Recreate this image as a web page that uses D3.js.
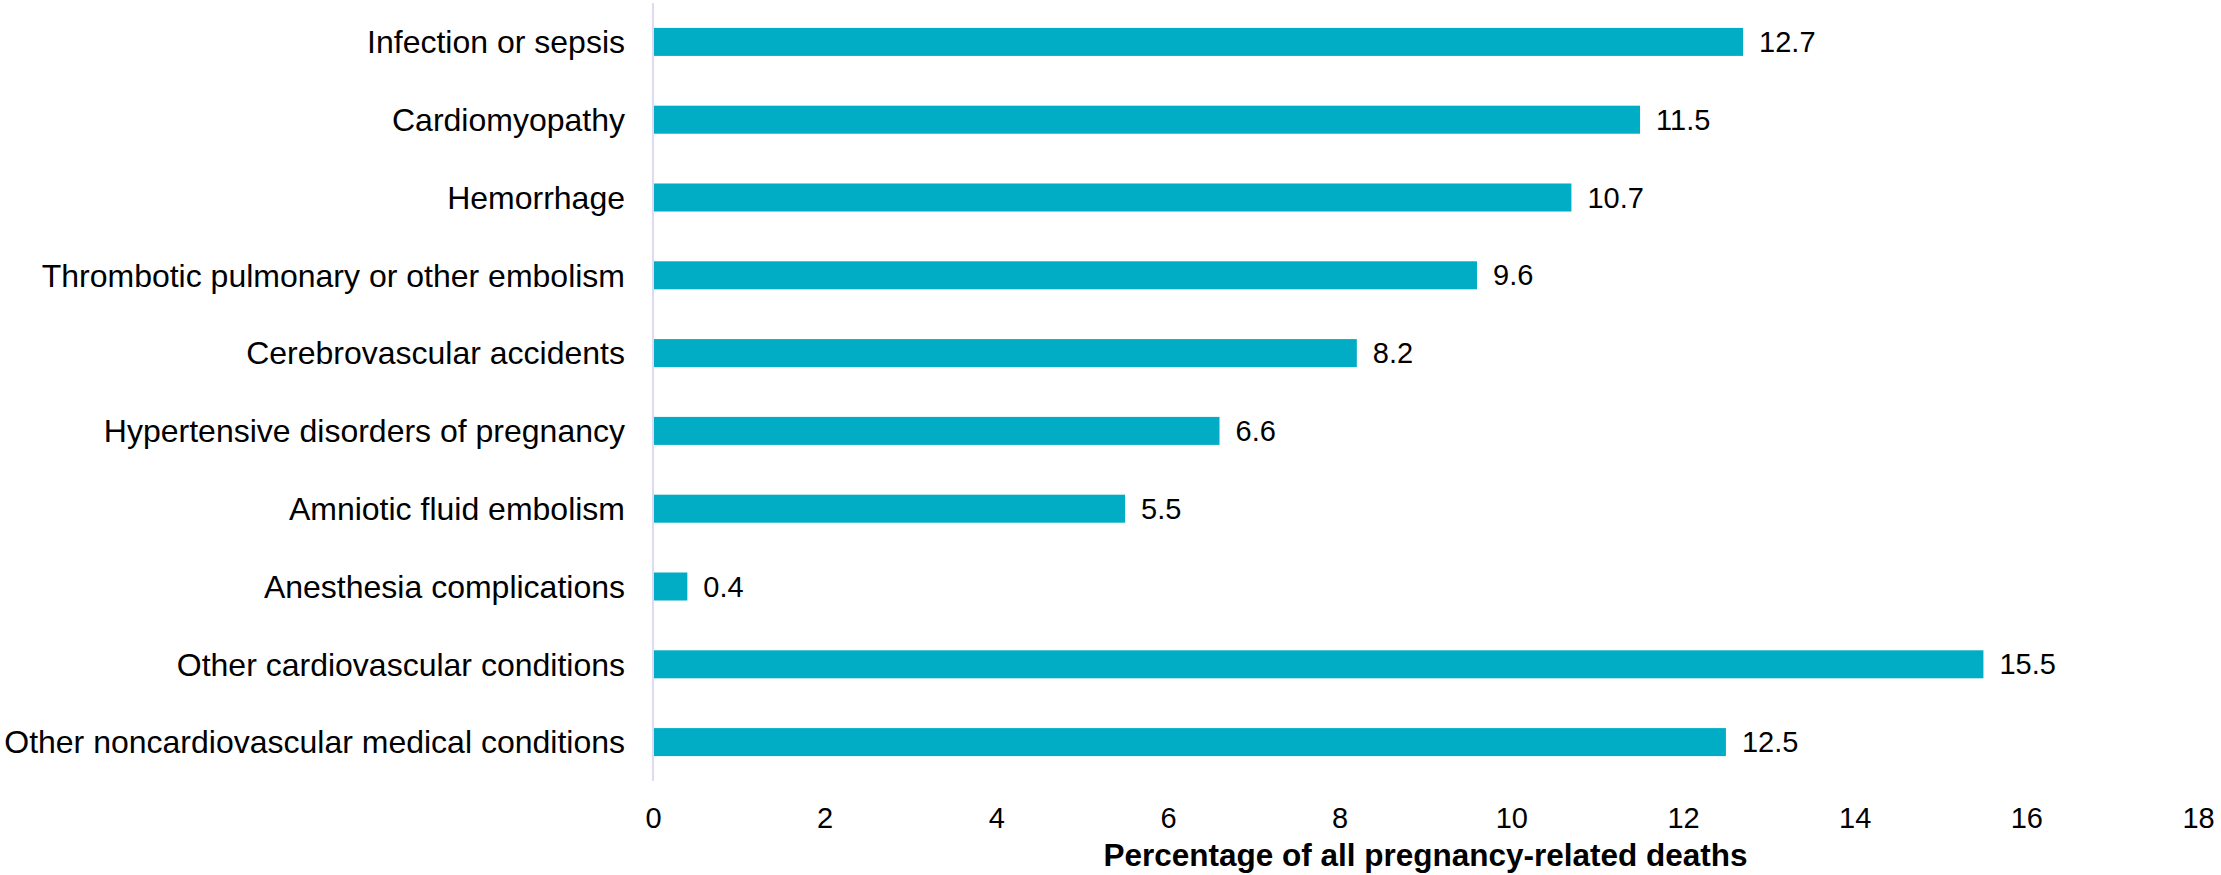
<!DOCTYPE html>
<html>
<head>
<meta charset="utf-8">
<script src="https://cdn.jsdelivr.net/npm/d3@7"></script>
<style>
  body { margin: 0; background: #fff; }
  svg text { font-family: "Liberation Sans", Arial, sans-serif; fill: #000; }
</style>
</head>
<body>
<svg id="mainSvg"></svg>
<script>
const causes = [
  "Infection or sepsis",
  "Cardiomyopathy",
  "Hemorrhage",
  "Thrombotic pulmonary or other embolism",
  "Cerebrovascular accidents",
  "Hypertensive disorders of pregnancy",
  "Amniotic fluid embolism",
  "Anesthesia complications",
  "Other cardiovascular conditions",
  "Other noncardiovascular medical conditions"
];
const percents = [12.7, 11.5, 10.7, 9.6, 8.2, 6.6, 5.5, 0.4, 15.5, 12.5];
const xTicks = [0, 2, 4, 6, 8, 10, 12, 14, 16, 18];
const xTitle = "Percentage of all pregnancy-related deaths";

const width = 2221;
const height = 875;
const plotLeft = 653, plotRight = 2198, plotTop = 3, plotBottom = 781;

const data = causes.map((c, i) => ({ cause: c, value: percents[i] }));

const svg = d3.select('#mainSvg')
  .attr("width", width)
  .attr("height", height);

const xScale = d3.scaleLinear()
  .domain([0, 18])
  .range([plotLeft, plotRight]);

const yScale = d3.scaleBand()
  .domain(causes)
  .range([plotTop, plotBottom])
  .paddingInner(0.64)
  .paddingOuter(0.32);

// bars
svg.append("g")
  .selectAll("rect")
  .data(data)
  .enter()
  .append("rect")
  .attr("x", xScale(0))
  .attr("y", d => yScale(d.cause))
  .attr("width", d => xScale(d.value) - xScale(0))
  .attr("height", yScale.bandwidth())
  .attr("fill", "#00adc4");

// vertical axis line
svg.append("line")
  .attr("x1", xScale(0))
  .attr("x2", xScale(0))
  .attr("y1", plotTop)
  .attr("y2", plotBottom)
  .attr("stroke", "#dedaf3")
  .attr("stroke-width", 2);

// category labels
svg.append("g")
  .selectAll("text")
  .data(data)
  .enter()
  .append("text")
  .attr("x", xScale(0) - 28)
  .attr("y", d => yScale(d.cause) + yScale.bandwidth() / 2)
  .attr("dy", "0.35em")
  .style("text-anchor", "end")
  .style("font-size", "32px")
  .text(d => d.cause);

// value labels
svg.append("g")
  .selectAll("text")
  .data(data)
  .enter()
  .append("text")
  .attr("x", d => xScale(d.value) + 16)
  .attr("y", d => yScale(d.cause) + yScale.bandwidth() / 2)
  .attr("dy", "0.35em")
  .style("font-size", "29px")
  .text(d => d.value.toFixed(1));

// x axis (labels only)
const xAxis = d3.axisBottom(xScale)
  .tickValues(xTicks)
  .tickSize(0)
  .tickPadding(0);

const gx = svg.append("g")
  .attr("transform", `translate(0,${plotBottom + 26})`)
  .call(xAxis);
gx.select(".domain").remove();
gx.selectAll("text")
  .attr("font-family", null)
  .style("font-size", "29px");

svg.append("text")
  .attr("x", (plotLeft + plotRight) / 2)
  .attr("y", 866)
  .style("text-anchor", "middle")
  .style("font-size", "31.5px")
  .style("font-weight", "bold")
  .text(xTitle);
</script>
</body>
</html>
